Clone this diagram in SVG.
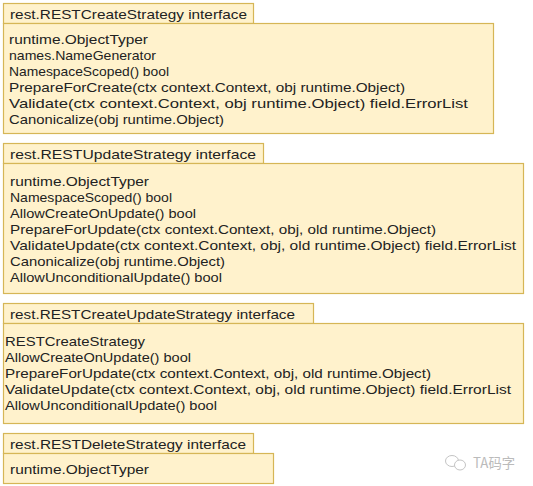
<svg xmlns="http://www.w3.org/2000/svg" width="533" height="486" viewBox="0 0 533 486">
<style>
.b{fill:#fff2cc;stroke:#d6b656;stroke-width:1.2}
text{font-family:"Liberation Sans",Arial,sans-serif;font-size:13.5px;fill:#222}
.w{fill:#bbb;font-size:14px;font-family:"Noto Sans CJK SC","Liberation Sans",sans-serif}
</style>
<rect width="533" height="486" fill="#fff"/>
<g id="create">
<rect class="b" x="3.5" y="3.5" width="250" height="20"/>
<rect class="b" x="3.5" y="23.5" width="490" height="110"/>
<text x="10" y="19" textLength="237" lengthAdjust="spacingAndGlyphs">rest.RESTCreateStrategy interface</text>
<text x="9" y="44" textLength="139" lengthAdjust="spacingAndGlyphs">runtime.ObjectTyper</text>
<text x="9" y="60" textLength="147" lengthAdjust="spacingAndGlyphs">names.NameGenerator</text>
<text x="9" y="76" textLength="160" lengthAdjust="spacingAndGlyphs">NamespaceScoped() bool</text>
<text x="9" y="92" textLength="396" lengthAdjust="spacingAndGlyphs">PrepareForCreate(ctx context.Context, obj runtime.Object)</text>
<text x="9" y="108" textLength="459" lengthAdjust="spacingAndGlyphs">Validate(ctx context.Context, obj runtime.Object) field.ErrorList</text>
<text x="9" y="124" textLength="215" lengthAdjust="spacingAndGlyphs">Canonicalize(obj runtime.Object)</text>
</g>
<g id="update">
<rect class="b" x="3.5" y="143.5" width="260" height="20"/>
<rect class="b" x="3.5" y="163.5" width="520" height="130"/>
<text x="10" y="159" textLength="246" lengthAdjust="spacingAndGlyphs">rest.RESTUpdateStrategy interface</text>
<text x="10" y="186" textLength="139" lengthAdjust="spacingAndGlyphs">runtime.ObjectTyper</text>
<text x="10" y="202" textLength="162" lengthAdjust="spacingAndGlyphs">NamespaceScoped() bool</text>
<text x="10" y="218" textLength="186" lengthAdjust="spacingAndGlyphs">AllowCreateOnUpdate() bool</text>
<text x="10" y="234" textLength="426" lengthAdjust="spacingAndGlyphs">PrepareForUpdate(ctx context.Context, obj, old runtime.Object)</text>
<text x="10" y="250" textLength="506" lengthAdjust="spacingAndGlyphs">ValidateUpdate(ctx context.Context, obj, old runtime.Object) field.ErrorList</text>
<text x="10" y="266" textLength="215" lengthAdjust="spacingAndGlyphs">Canonicalize(obj runtime.Object)</text>
<text x="10" y="282" textLength="212" lengthAdjust="spacingAndGlyphs">AllowUnconditionalUpdate() bool</text>
</g>
<g id="createupdate">
<rect class="b" x="3.5" y="303.5" width="310" height="20"/>
<rect class="b" x="3.5" y="323.5" width="520" height="100"/>
<text x="10" y="319" textLength="285" lengthAdjust="spacingAndGlyphs">rest.RESTCreateUpdateStrategy interface</text>
<text x="5" y="346" textLength="140" lengthAdjust="spacingAndGlyphs">RESTCreateStrategy</text>
<text x="5" y="362" textLength="186" lengthAdjust="spacingAndGlyphs">AllowCreateOnUpdate() bool</text>
<text x="5" y="378" textLength="426" lengthAdjust="spacingAndGlyphs">PrepareForUpdate(ctx context.Context, obj, old runtime.Object)</text>
<text x="5" y="394" textLength="506" lengthAdjust="spacingAndGlyphs">ValidateUpdate(ctx context.Context, obj, old runtime.Object) field.ErrorList</text>
<text x="5" y="410" textLength="212" lengthAdjust="spacingAndGlyphs">AllowUnconditionalUpdate() bool</text>
</g>
<g id="delete">
<rect class="b" x="3.5" y="433.5" width="250" height="20"/>
<rect class="b" x="3.5" y="453.5" width="270" height="30"/>
<text x="10" y="449" textLength="236" lengthAdjust="spacingAndGlyphs">rest.RESTDeleteStrategy interface</text>
<text x="10" y="474" textLength="139" lengthAdjust="spacingAndGlyphs">runtime.ObjectTyper</text>
</g>
<g id="watermark">
<ellipse cx="452" cy="461" rx="6.5" ry="5.5" fill="none" stroke="#c4c4c4"/>
<ellipse cx="460" cy="465" rx="5.5" ry="5" fill="#fff" stroke="#c4c4c4"/>
<text class="w" x="473" y="468" textLength="42" lengthAdjust="spacingAndGlyphs">TA码字</text>
</g>
</svg>
